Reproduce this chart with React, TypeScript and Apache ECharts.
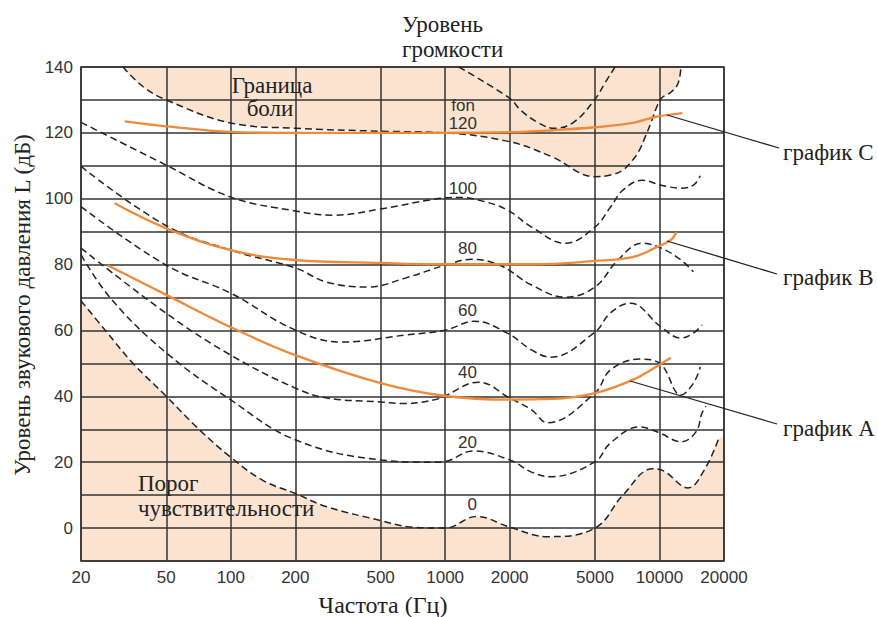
import React, { useEffect, useRef } from "react";
import * as echarts from "echarts";

type Pt = [number, number];

const freqTicks = [20, 50, 100, 200, 500, 1000, 2000, 5000, 10000, 20000];
const yTickLabels = [0, 20, 40, 60, 80, 100, 120, 140];

// Equal-loudness contours (Hz, dB)
const phon0: Pt[] = [
  [20, 69], [26, 60], [35, 50], [50, 40], [71, 30], [100, 21.5], [141, 14.5], [200, 10.5], [280, 6.5],
  [500, 2.3], [700, 0.3], [1000, 0], [1400, 3.5], [2000, 0.3], [3000, -2.6], [5000, 0],
  [6750, 10], [9300, 18], [10500, 17.3], [13600, 12.2], [16200, 17.7], [18800, 26.8],
];
const thresholdFillEnd: Pt[] = [[20000, 27.7]];
const phon20: Pt[] = [
  [20, 83], [27.7, 69.5], [50, 53.2], [100, 38.9], [200, 26.8], [500, 20.7], [900, 20],
  [1000, 20.2], [1350, 23.4], [2000, 20.7], [2530, 17], [3100, 15.6], [5000, 20.1],
  [5900, 25.8], [8050, 30.7], [10000, 28.9], [12600, 26.2], [14800, 29.2], [15800, 35], [16500, 37],
];
const phon40: Pt[] = [
  [20, 85], [50, 65.2], [100, 52.5], [200, 42.5], [280, 39.5], [500, 38.3], [650, 37.8], [900, 39],
  [1000, 40.2], [1430, 44.3], [2000, 39.5], [2530, 35.9], [3000, 32], [5000, 41], [5900, 48],
  [8050, 51.3], [10000, 50.1], [12600, 40.4], [14400, 44], [15500, 48.9],
];
const phon60: Pt[] = [
  [20, 97.6], [50, 79.8], [100, 71.3], [200, 60.1], [330, 56.5], [650, 58.6], [1000, 60.1],
  [1370, 62.8], [1950, 59.2], [2530, 54.1], [3100, 51.9], [5000, 59.5], [5900, 65.3],
  [7300, 68.3], [10200, 61], [12600, 57.7], [14400, 59.2], [15800, 61.7],
];
const phon80: Pt[] = [
  [20, 109.8], [50, 91.8], [100, 84.4], [200, 79], [280, 74.7], [440, 73.2], [650, 75.9],
  [1000, 79.8], [1330, 81.6], [1800, 79.8], [2530, 73.8], [3640, 70.1], [5000, 73.2],
  [6400, 81.4], [8300, 86.5], [10200, 85], [12600, 81.4], [14400, 77.8],
];
const phon100: Pt[] = [
  [20, 123.2], [50, 110.2], [100, 100.5], [200, 96.3], [300, 95], [500, 96.9], [900, 99.9],
  [1150, 100.4], [1430, 99.6], [1950, 96.6], [2530, 91.4], [3640, 86.5], [5000, 91.4],
  [5900, 97.4], [6750, 102.6], [8300, 105.6], [10200, 104.1], [12600, 103.2], [14400, 104.1], [15500, 107],
];
const phon120: Pt[] = [
  [31.4, 140], [39, 134], [50, 130], [100, 123], [200, 121.4], [500, 120.5], [1000, 120],
  [2000, 117.3], [3160, 112.7], [5000, 106.7], [5900, 107.2], [6750, 108.7], [7490, 111.7],
  [8050, 114.7], [8570, 118.7], [9220, 123.8], [9700, 127.8], [10200, 130.5], [11340, 132.4],
  [12200, 135], [12600, 140],
];
const phon140: Pt[] = [
  [1158, 140], [2000, 130.5], [2260, 126.8], [2730, 123], [3230, 121.4], [3970, 123.2],
  [5000, 130.2], [5600, 135.4], [6200, 140],
];

// Orange graphs
const graphA: Pt[] = [
  [26.6, 79.8], [50, 70.8], [100, 61], [200, 52.5], [500, 44], [1000, 40.1], [2000, 39],
  [3160, 39.2], [5000, 41], [7500, 45], [10000, 49.6], [11300, 51.7],
];
const graphB: Pt[] = [
  [28.7, 98.6], [50, 91], [100, 84.4], [200, 81.4], [500, 80.5], [1000, 80.1], [2530, 80.1],
  [5000, 81.1], [7500, 82.3], [9500, 85], [11300, 87.5], [12000, 89.9],
];
const graphC: Pt[] = [
  [32, 123.5], [50, 122], [100, 120.3], [200, 120], [500, 120], [1000, 120], [2000, 120.2],
  [3160, 120.8], [5000, 121.7], [7500, 123], [9500, 124.8], [12800, 126],
];

const toLog = (pts: Pt[]) => pts.map(([f, v]) => [Math.log10(f), v]);

const PEACH = "#FBE3D0";
const ORANGE = "#EF8A3A";
const GRID = "#333";
const SERIF = "Liberation Serif, DejaVu Serif, serif";
const SANS = "Liberation Sans, Arial, sans-serif";

export default function App() {
  const ref = useRef<HTMLDivElement>(null);
  useEffect(() => {
    document.body.style.margin = "0";
    if (!ref.current) return;
    const chart = echarts.init(ref.current, undefined, { renderer: "svg" });

    const dashed = (name: string, pts: Pt[]) => ({
      name,
      type: "line",
      data: toLog(pts),
      smooth: 0.4,
      showSymbol: false,
      symbol: "none",
      lineStyle: { color: "#222", width: 1.5, type: [7, 4] },
      z: 3,
    });
    const orange = (name: string, pts: Pt[]) => ({
      name,
      type: "line",
      data: toLog(pts),
      smooth: 0.4,
      showSymbol: false,
      symbol: "none",
      lineStyle: { color: ORANGE, width: 2.3 },
      z: 4,
    });

    const tickLog = freqTicks.map((f) => Math.log10(f));

    const sTxt = (text: string, x: number, y: number) => ({
      type: "text",
      x,
      y,
      style: {
        text,
        fill: "#333",
        font: `17px ${SANS}`,
        textAlign: "right",
        textVerticalAlign: "middle",
      },
      z: 10,
    });
    const serifTxt = (text: string, x: number, y: number, align = "left", size = 23) => ({
      type: "text",
      x,
      y,
      style: {
        text,
        fill: "#222",
        font: `${size}px ${SERIF}`,
        textAlign: align,
        textVerticalAlign: "middle",
      },
      z: 10,
    });
    const leader = (x1: number, y1: number, x2: number, y2: number) => ({
      type: "line",
      shape: { x1, y1, x2, y2 },
      style: { stroke: "#222", lineWidth: 1.3 },
      z: 10,
    });

    chart.setOption({
      animation: false,
      grid: {
        left: 81,
        right: 154,
        top: 67,
        bottom: 56,
        show: true,
        borderColor: GRID,
        borderWidth: 1.5,
        backgroundColor: "transparent",
      },
      xAxis: {
        type: "value",
        min: Math.log10(20),
        max: Math.log10(20000),
        axisLine: { show: false },
        axisTick: { show: false, customValues: tickLog },
        axisLabel: {
          customValues: tickLog,
          formatter: (v: number) => String(Math.round(Math.pow(10, v))),
          color: "#333",
          fontFamily: SANS,
          fontSize: 17,
          margin: 8,
        },
        splitLine: { show: true, lineStyle: { color: GRID, width: 1.5 } },
      },
      yAxis: {
        type: "value",
        min: -10,
        max: 140,
        interval: 10,
        axisLine: { show: false },
        axisTick: { show: false },
        axisLabel: {
          formatter: (v: number) => (yTickLabels.includes(v) ? String(v) : ""),
          color: "#333",
          fontFamily: SANS,
          fontSize: 17,
          margin: 8,
        },
        splitLine: { show: true, lineStyle: { color: GRID, width: 1.5 } },
      },
      series: [
        {
          name: "painFill",
          type: "line",
          data: toLog(phon120),
          smooth: 0.4,
          showSymbol: false,
          symbol: "none",
          lineStyle: { width: 0, opacity: 0 },
          areaStyle: { color: PEACH, opacity: 1, origin: "end" },
          z: -1,
          silent: true,
        },
        {
          name: "thresholdFill",
          type: "line",
          data: toLog([...phon0, ...thresholdFillEnd]),
          smooth: 0.4,
          showSymbol: false,
          symbol: "none",
          lineStyle: { width: 0, opacity: 0 },
          areaStyle: { color: PEACH, opacity: 1, origin: "start" },
          z: -1,
          silent: true,
        },
        dashed("0", phon0),
        dashed("20", phon20),
        dashed("40", phon40),
        dashed("60", phon60),
        dashed("80", phon80),
        dashed("100", phon100),
        dashed("120", phon120),
        dashed("140", phon140),
        orange("A", graphA),
        orange("B", graphB),
        orange("C", graphC),
      ],
      graphic: [
        serifTxt("Уровень", 402, 24),
        serifTxt("громкости", 402, 49),
        serifTxt("Граница", 272, 85, "center"),
        serifTxt("боли", 270, 108, "center"),
        serifTxt("Порог", 138, 483),
        serifTxt("чувствительности", 138, 508),
        serifTxt("график C", 783, 152),
        serifTxt("график B", 783, 277),
        serifTxt("график A", 783, 428),
        serifTxt("Частота (Гц)", 383, 605, "center", 24),
        {
          type: "text",
          x: 22,
          y: 305,
          rotation: Math.PI / 2,
          style: {
            text: "Уровень звукового давления L (дБ)",
            fill: "#222",
            font: `23px ${SERIF}`,
            textAlign: "center",
            textVerticalAlign: "middle",
          },
          z: 10,
        },
        sTxt("fon", 475, 105),
        sTxt("120", 477, 123),
        sTxt("100", 477, 188),
        sTxt("80", 477, 248),
        sTxt("60", 477, 310),
        sTxt("40", 477, 372),
        sTxt("20", 477, 442),
        sTxt("0", 477, 504),
        leader(667, 115, 779, 148),
        leader(667, 241, 777, 274),
        leader(630, 381, 777, 424),
      ],
    });
    return () => chart.dispose();
  }, []);
  return <div ref={ref} style={{ width: 878, height: 617 }} />;
}
